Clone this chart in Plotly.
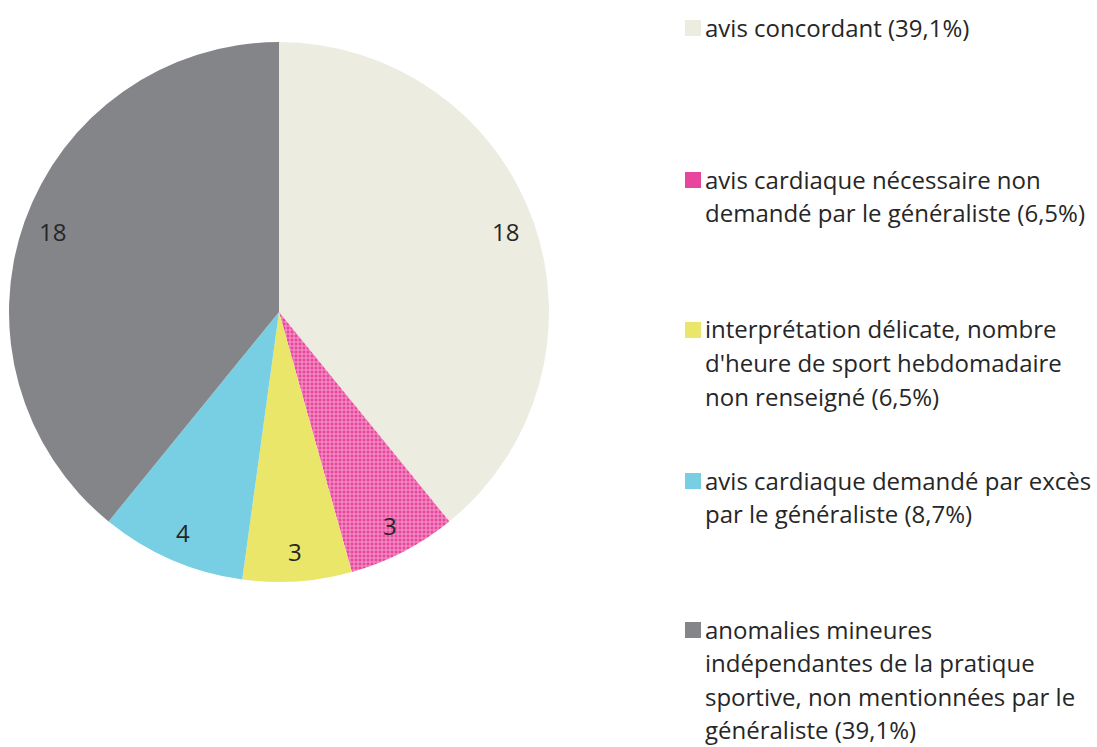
import math
import plotly.graph_objects as go

# ---- data ----
categories = [
    "avis concordant (39,1%)",
    "avis cardiaque nécessaire non<br>demandé par le généraliste (6,5%)",
    "interprétation délicate, nombre<br>d'heure de sport hebdomadaire<br>non renseigné (6,5%)",
    "avis cardiaque demandé par excès<br>par le généraliste (8,7%)",
    "anomalies mineures<br>indépendantes de la pratique<br>sportive, non mentionnées par le<br>généraliste (39,1%)",
]
values = [18, 3, 3, 4, 18]
colors = ["#EDECE1", "#E8469C", "#E9E66A", "#78CFE4", "#848589"]

# ---- layout constants ----
W, H = 1097, 747
CX, CY, R = 279, 312, 270          # pie centre / radius in px
LABEL_RF = 0.89                     # label radius fraction
FONT = "Open Sans, Noto Sans, sans-serif"
TXT = "#262626"
FS = 24

fig = go.Figure()
fig.add_trace(go.Pie(
    labels=[c.replace("<br>", " ") for c in categories],
    values=values,
    sort=False,
    direction="clockwise",
    rotation=0,
    textinfo="none",
    hoverinfo="label+value+percent",
    showlegend=False,
    marker=dict(
        colors=colors,
        line=dict(width=0),
        pattern=dict(
            shape=["", "+", "", "", ""],
            bgcolor=colors,
            fgcolor=["#EDECE1", "#F49BCB", "#E9E66A", "#78CFE4", "#848589"],
            size=4,
            solidity=0.45,
        ),
    ),
    domain=dict(x=[(CX - R) / W, (CX + R) / W], y=[1 - (CY + R) / H, 1 - (CY - R) / H]),
))

annotations = []
# slice value labels computed from the data
total = sum(values)
cum = 0
for v in values:
    mid = (cum + v / 2) / total * 2 * math.pi
    cum += v
    px = CX + LABEL_RF * R * math.sin(mid)
    py = CY - LABEL_RF * R * math.cos(mid)
    annotations.append(dict(
        x=px / W, y=1 - py / H, xref="paper", yref="paper",
        text=str(v), showarrow=False, xanchor="center", yanchor="middle",
        font=dict(family=FONT, size=FS, color=TXT),
    ))

# manual legend
legend_top = [28, 180, 330, 481, 630]   # px centre of first line of each item
line_h = 33.5
shapes = []
for i, cat in enumerate(categories):
    y0 = legend_top[i]
    shapes.append(dict(
        type="rect", xref="paper", yref="paper",
        x0=685 / W, x1=701 / W, y0=1 - (y0 + 8) / H, y1=1 - (y0 - 8) / H,
        fillcolor=colors[i], line=dict(width=0), layer="above",
    ))
    for j, line in enumerate(cat.split("<br>")):
        annotations.append(dict(
            x=704 / W, y=1 - (y0 - 1 + j * line_h) / H, xref="paper", yref="paper",
            text=line, showarrow=False, xanchor="left", yanchor="middle",
            borderpad=0,
            font=dict(family=FONT, size=FS, color=TXT),
        ))

fig.update_layout(
    width=W, height=H,
    margin=dict(l=0, r=0, t=0, b=0),
    paper_bgcolor="white", plot_bgcolor="white",
    annotations=annotations, shapes=shapes,
)
fig.write_html(
    "out.html",
    config={"displayModeBar": False},
    post_script="document.body.style.margin='0';document.body.style.padding='0';",
)
